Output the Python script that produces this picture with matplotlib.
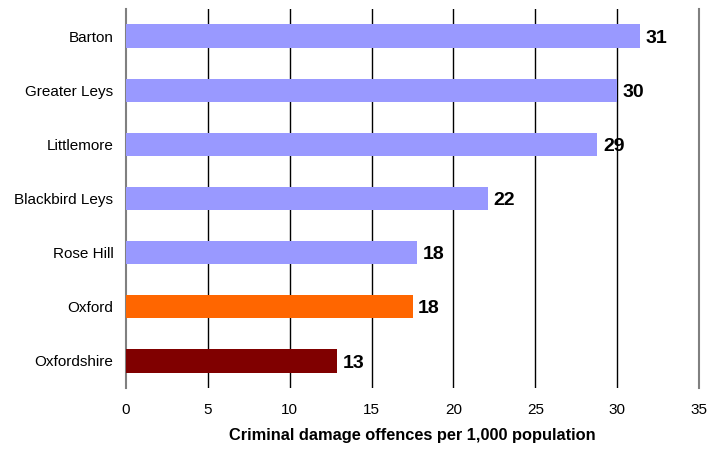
import matplotlib.pyplot as plt

areas = ['Barton', 'Greater Leys', 'Littlemore', 'Blackbird Leys', 'Rose Hill', 'Oxford', 'Oxfordshire']
values = [31.4, 30.0, 28.8, 22.1, 17.8, 17.5, 12.9]
labels = ['31', '30', '29', '22', '18', '18', '13']
colors = ['#9999FF', '#9999FF', '#9999FF', '#9999FF', '#9999FF', '#FF6600', '#800000']
xticks = [0, 5, 10, 15, 20, 25, 30, 35]

plt.rcParams['font.family'] = ['Liberation Sans', 'DejaVu Sans']

fig = plt.figure(figsize=(7.09, 4.5), dpi=100)
ax = fig.add_axes([126 / 709, 1 - 388 / 450, (699 - 126) / 709, (388 - 9) / 450])

pos = list(range(len(areas)))
ax.barh(pos, values, height=0.43, color=colors, zorder=3)
for p, v, t in zip(pos, values, labels):
    ax.text(v + 0.35, p + 0.04, t, va='center', ha='left', fontsize=14, fontweight='bold', zorder=4)

ax.set_xlim(0, 35)
ax.set_ylim(6.5, -0.5)
ax.set_yticks(pos)
ax.set_yticklabels(areas, fontsize=11)
ax.set_xticks(xticks)
ax.set_xticklabels([str(x) for x in xticks], fontsize=11)
ax.tick_params(length=0, pad=9)
ax.tick_params(axis='x', pad=11)

for x in xticks[1:-1]:
    ax.axvline(x, color='black', lw=1, zorder=1)

for s in ['top', 'bottom']:
    ax.spines[s].set_visible(False)
ax.spines['left'].set_color('#808080')
ax.spines['right'].set_color('#808080')
ax.spines['left'].set_linewidth(1.5)
ax.spines['right'].set_linewidth(1.5)

ax.set_xlabel('Criminal damage offences per 1,000 population', fontsize=11.8, fontweight='bold', labelpad=8)

fig.savefig('out.png', dpi=100)
